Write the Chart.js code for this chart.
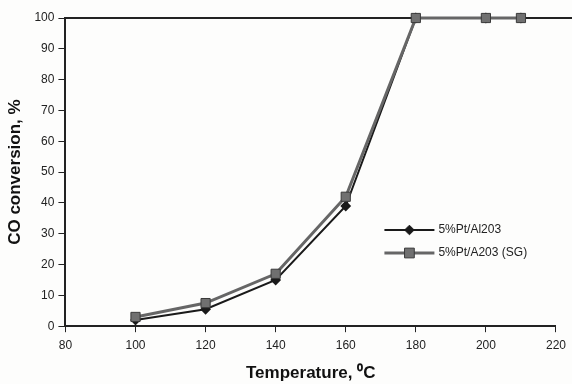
<!DOCTYPE html>
<html>
<head>
<meta charset="utf-8">
<script src="https://cdn.jsdelivr.net/npm/chart.js@4/dist/chart.umd.min.js"></script>
<style>
    html, body { margin: 0; padding: 0; background: #fdfdfc; }
    #wrap { width: 572px; height: 384px; position: relative; }
</style>
</head>
<body>
<div id="wrap"><canvas id="coChart"></canvas></div>
<script>
// Data
const temps = [100, 120, 140, 160, 180, 200, 210];
const ptAlumina = [2, 5.5, 15, 39, 100, 100, 100];
const ptAluminaSG = [3, 7.5, 17, 42, 100, 100, 100];
const xTicks = [80, 100, 120, 140, 160, 180, 200, 220];

const FONT = "'Liberation Sans', Arial, sans-serif";

// Frame line along the top of the plot, as in the scan
const topFramePlugin = {
    id: 'topFrame',
    beforeDatasetsDraw(chart) {
        const { ctx, chartArea } = chart;
        ctx.save();
        ctx.strokeStyle = '#222';
        ctx.lineWidth = 2;
        ctx.beginPath();
        ctx.moveTo(chartArea.left, chartArea.top);
        ctx.lineTo(chart.width, chartArea.top);
        ctx.stroke();
        ctx.restore();
    }
};

// Legend sitting inside the plot area, lower right
const innerLegendPlugin = {
    id: 'innerLegend',
    afterDraw(chart) {
        const { ctx, chartArea } = chart;
        const x0 = chartArea.left + 319;
        let y = chartArea.top + 212;
        ctx.save();
        ctx.font = '12px ' + FONT;
        ctx.textBaseline = 'middle';
        chart.data.datasets.forEach(ds => {
            ctx.strokeStyle = ds.borderColor;
            ctx.lineWidth = ds.borderWidth;
            ctx.beginPath();
            ctx.moveTo(x0, y);
            ctx.lineTo(x0 + 50, y);
            ctx.stroke();
            const mx = x0 + 25;
            const r = ds.pointRadius;
            ctx.fillStyle = ds.pointBackgroundColor;
            ctx.strokeStyle = ds.pointBorderColor;
            ctx.lineWidth = 1;
            ctx.beginPath();
            if (ds.pointStyle === 'rectRot') {
                ctx.moveTo(mx, y - r * 1.2);
                ctx.lineTo(mx + r * 1.2, y);
                ctx.lineTo(mx, y + r * 1.2);
                ctx.lineTo(mx - r * 1.2, y);
                ctx.closePath();
            } else {
                ctx.rect(mx - r * 0.75, y - r * 0.75, r * 1.5, r * 1.5);
            }
            ctx.fill();
            ctx.stroke();
            ctx.fillStyle = '#222';
            ctx.fillText(ds.label, x0 + 54, y);
            y += 23;
        });
        ctx.restore();
    }
};

const ctx = document.getElementById('coChart').getContext('2d');
new Chart(ctx, {
    type: 'line',
    data: {
        datasets: [
            {
                label: '5%Pt/Al203',
                data: temps.map((t, i) => ({ x: t, y: ptAlumina[i] })),
                borderColor: '#1a1a1a',
                borderWidth: 2,
                pointStyle: 'rectRot',
                pointRadius: 4,
                pointBackgroundColor: '#1a1a1a',
                pointBorderColor: '#1a1a1a',
                tension: 0,
                clip: false,
                order: 2
            },
            {
                label: '5%Pt/A203 (SG)',
                data: temps.map((t, i) => ({ x: t, y: ptAluminaSG[i] })),
                borderColor: '#666',
                borderWidth: 3,
                pointStyle: 'rect',
                pointRadius: 6.5,
                pointBackgroundColor: '#707070',
                pointBorderColor: '#3a3a3a',
                pointBorderWidth: 1,
                tension: 0,
                clip: false,
                order: 1
            }
        ]
    },
    options: {
        responsive: true,
        maintainAspectRatio: false,
        animation: false,
        layout: { padding: { top: 18, right: 11, bottom: 0, left: 5 } },
        plugins: {
            legend: { display: false },
            tooltip: { enabled: false }
        },
        scales: {
            x: {
                type: 'linear',
                min: 80,
                max: 220,
                afterBuildTicks: axis => { axis.ticks = xTicks.map(v => ({ value: v })); },
                grid: { drawOnChartArea: false, tickLength: 6, color: '#222' },
                border: { color: '#222', width: 2 },
                ticks: { color: '#222', font: { family: FONT, size: 12 }, padding: 6 },
                title: {
                    display: true,
                    text: 'Temperature, \u2070C',
                    color: '#111',
                    font: { family: FONT, size: 17, weight: 'bold' },
                    padding: { top: 5, bottom: 0 }
                }
            },
            y: {
                min: 0,
                max: 100,
                ticks: { stepSize: 10, color: '#222', font: { family: FONT, size: 12 }, padding: 4 },
                grid: { drawOnChartArea: false, tickLength: 7, color: '#222' },
                border: { color: '#222', width: 2 },
                title: {
                    display: true,
                    text: 'CO conversion, %',
                    color: '#111',
                    font: { family: FONT, size: 17, weight: 'bold' },
                    padding: { top: 0, bottom: 5 }
                }
            }
        }
    },
    plugins: [topFramePlugin, innerLegendPlugin]
});
</script>
</body>
</html>
